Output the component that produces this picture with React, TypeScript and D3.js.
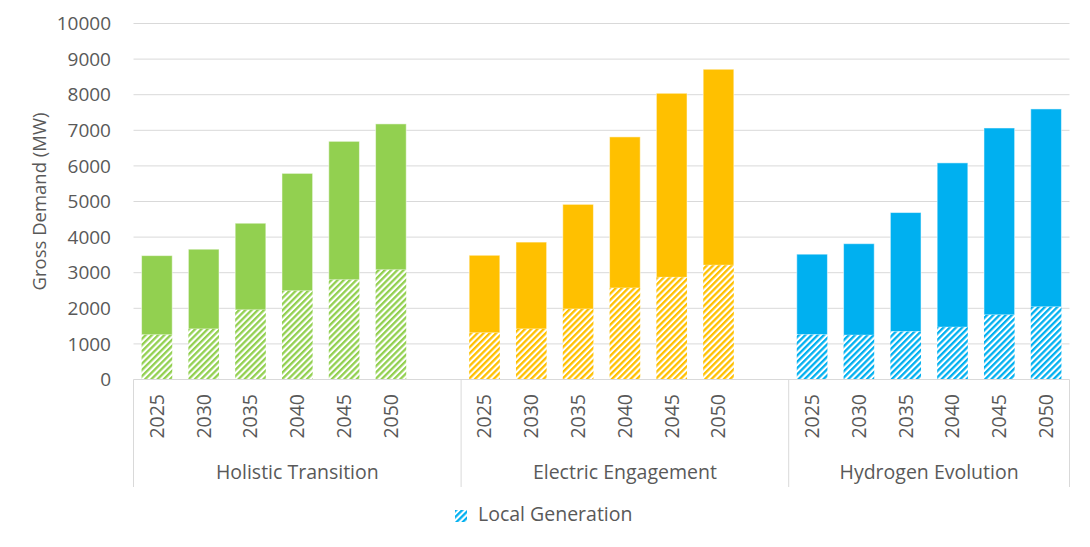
import * as d3 from 'd3';

const FONT = '"Open Sans", "Noto Sans", sans-serif';
const TEXT = '#595959';
const GRID = '#d9d9d9';

const years = ['2025', '2030', '2035', '2040', '2045', '2050'];
const scenarios = ['Holistic Transition', 'Electric Engagement', 'Hydrogen Evolution'];
const colors = ['#92D050', '#FFC000', '#00B0F0'];

// gross demand (MW), total bar height and the local generation part of it
const holisticTotal = [3480, 3660, 4390, 5790, 6690, 7180];
const holisticLocal = [1255, 1420, 1955, 2490, 2800, 3080];
const electricTotal = [3490, 3860, 4920, 6815, 8040, 8715];
const electricLocal = [1310, 1420, 1980, 2570, 2870, 3210];
const hydrogenTotal = [3520, 3815, 4690, 6085, 7065, 7600];
const hydrogenLocal = [1260, 1245, 1345, 1470, 1815, 2040];

const yTicks = [0, 1000, 2000, 3000, 4000, 5000, 6000, 7000, 8000, 9000, 10000];

const totals = [holisticTotal, electricTotal, hydrogenTotal];
const locals = [holisticLocal, electricLocal, hydrogenLocal];

const WIDTH = 1090;
const HEIGHT = 547;
const PLOT = { left: 133.5, right: 1069.5, top: 23.5, bottom: 379.5 };
const AXIS_BOTTOM = 487;

// one slot per year, plus an empty slot between scenarios
const slots: string[] = [];
scenarios.forEach((s, gi) => {
  years.forEach((y) => slots.push(`${gi}-${y}`));
  if (gi < scenarios.length - 1) slots.push(`gap-${gi}`);
});

export default function App() {
  const x = d3
    .scaleBand<string>()
    .domain(slots)
    .range([PLOT.left, PLOT.right])
    .paddingInner(0.345)
    .paddingOuter(0.1725);
  const y = d3.scaleLinear().domain([0, 10000]).range([PLOT.bottom, PLOT.top]);
  const step = x.step();
  const slotStart = (key: string) => (x(key) ?? 0) - (step * 0.345) / 2;

  // group boundaries on the category axis
  const groupEdges = [
    PLOT.left,
    slotStart('gap-0') + step,
    slotStart('gap-1') + step,
    PLOT.right,
  ];

  return (
    <div style={{ position: 'absolute', left: 0, top: 0 }}>
      <svg width={WIDTH} height={HEIGHT} style={{ display: 'block' }} fontFamily={FONT}>
        <defs>
          {colors.map((c, i) => (
            <pattern
              key={i}
              id={`hatch-${i}`}
              patternUnits='userSpaceOnUse'
              width={4.4}
              height={4.4}
              patternTransform='rotate(45)'
            >
              <rect width={4.4} height={4.4} fill='#fff' />
              <rect x={0} width={2.3} height={4.4} fill={c} />
            </pattern>
          ))}
        </defs>

        {/* gridlines + y labels */}
        {yTicks.map((t) => (
          <g key={t}>
            {t > 0 && (
              <line x1={PLOT.left} x2={PLOT.right} y1={y(t)} y2={y(t)} stroke={GRID} strokeWidth={1} />
            )}
            <text x={111} y={y(t)} dy='0.35em' textAnchor='end' fontSize={19} fill={TEXT}>
              {t}
            </text>
          </g>
        ))}

        <text
          transform={`translate(40,${(PLOT.top + PLOT.bottom) / 2}) rotate(-90)`}
          textAnchor='middle'
          dy='0.35em'
          fontSize={18.5}
          fill={TEXT}
        >
          Gross Demand (MW)
        </text>

        {/* bars */}
        {scenarios.map((s, gi) =>
          years.map((yr, i) => {
            const key = `${gi}-${yr}`;
            const bx = x(key) ?? 0;
            const bw = x.bandwidth();
            const total = totals[gi][i];
            const local = locals[gi][i];
            return (
              <g key={key}>
                <rect
                  x={bx}
                  y={y(total)}
                  width={bw}
                  height={y(local) - y(total)}
                  fill={colors[gi]}
                  stroke='#fff'
                  strokeOpacity={0.5}
                  strokeWidth={1}
                />
                <rect
                  x={bx}
                  y={y(local)}
                  width={bw}
                  height={y(0) - y(local)}
                  fill={`url(#hatch-${gi})`}
                />
              </g>
            );
          })
        )}

        {/* category axis */}
        <line x1={PLOT.left} x2={PLOT.right} y1={PLOT.bottom} y2={PLOT.bottom} stroke={GRID} />
        {groupEdges.map((gx, i) => (
          <line key={i} x1={gx} x2={gx} y1={PLOT.bottom} y2={AXIS_BOTTOM} stroke={GRID} />
        ))}
        {scenarios.map((s, gi) =>
          years.map((yr) => {
            const key = `${gi}-${yr}`;
            const cx = (x(key) ?? 0) + x.bandwidth() / 2;
            return (
              <text
                key={key}
                transform={`translate(${cx},394) rotate(-90)`}
                textAnchor='end'
                dy='0.35em'
                fontSize={19.5}
                fill={TEXT}
              >
                {yr}
              </text>
            );
          })
        )}
        {scenarios.map((s, gi) => (
          <text
            key={s}
            x={(groupEdges[gi] + groupEdges[gi + 1]) / 2}
            y={479}
            textAnchor='middle'
            fontSize={19.5}
            fill={TEXT}
          >
            {s}
          </text>
        ))}

        {/* legend */}
        <rect x={455} y={510} width={12} height={12} fill='url(#hatch-2)' />
        <text x={478} y={521} fontSize={19.5} fill={TEXT}>
          Local Generation
        </text>
      </svg>
    </div>
  );
}
